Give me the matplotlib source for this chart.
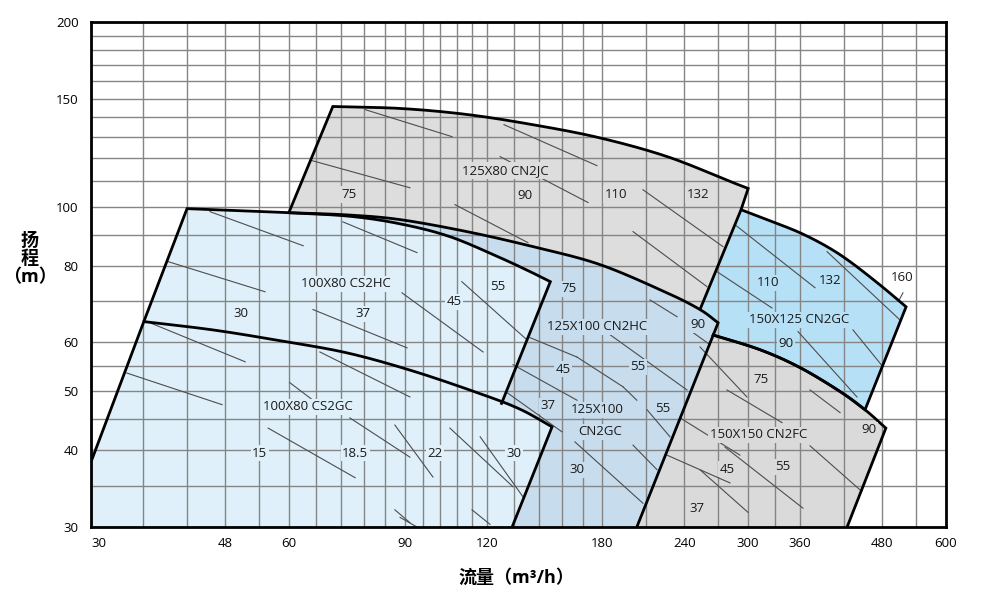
import numpy as np
import matplotlib
matplotlib.use("Agg")
import matplotlib.pyplot as plt
from matplotlib.patches import Polygon

plt.rcParams['font.family'] = ['Open Sans', 'Noto Sans CJK SC', 'DejaVu Sans']

# ---------------- axes ----------------
x_ticks = [30, 48, 60, 90, 120, 180, 240, 300, 360, 480, 600]
y_ticks = [30, 40, 50, 60, 80, 100, 150, 200]
x_grid = [36, 42, 48, 54, 60, 66, 72, 78, 84, 90, 96, 102, 108, 114, 120,
          132, 144, 156, 168, 180, 210, 240, 270, 300, 330, 360, 420, 480, 540]
y_grid = [35, 40, 45, 50, 55, 60, 70, 80, 90, 100, 110, 120, 130, 140, 150,
          160, 170, 180, 190]

# ---------------- region boundaries (flow m3/h, head m) ----------------
# 125X80 CN2JC
cn2jc_left_q, cn2jc_left_h = [60], [97.7]
cn2jc_top_q = [70, 89, 112, 141, 178, 226, 282, 300]
cn2jc_top_h = [145.6, 144.5, 141.3, 136, 129.5, 120.6, 109.8, 107.0]
cn2jc_right_q, cn2jc_right_h = [292.6], [98.8]
cn2jc_hidden_q, cn2jc_hidden_h = [270, 240, 60], [75, 60, 60]

# 150X150 CN2FC
cn2fc_top_q = [264.2, 312.6, 359.8, 414, 451.8, 486]
cn2fc_top_h = [61.8, 58.4, 54.6, 49.9, 46.6, 43.5]
cn2fc_right_q, cn2fc_right_h = [424.3], [30]
cn2fc_hidden_q, cn2fc_hidden_h = [200, 255], [30, 62]

# 150X125 CN2GC
gc150_left_q, gc150_left_h = [253.4], [67.9]
gc150_top_q = [292.6, 323.8, 359.8, 395.5, 428.6, 476, 521.7]
gc150_top_h = [98.8, 94.8, 90.6, 86.0, 81.3, 74.5, 68.6]
gc150_bot_q = [451.8, 414, 359.8, 312.6, 264.2]
gc150_bot_h = [46.6, 49.9, 54.6, 58.4, 61.8]
gc150_hidden_q, gc150_hidden_h = [250], [62]

# 125X100 CN2HC / CN2GC
cn2hc_top_q = [60, 73.6, 88.6, 112, 141.2, 178.5, 225.7, 253.4, 270]
cn2hc_top_h = [97.7, 96.9, 95.2, 91, 86, 80.4, 72.3, 67.9, 64.6]
cn2hc_right_q, cn2hc_right_h = [203.1], [30]
cn2hc_hidden_q, cn2hc_hidden_h = [120, 60], [30, 60]

# 100X80 CS2HC
cs2hc_left_q, cs2hc_left_h = [36.1], [64.9]
cs2hc_top_q = [42, 50.6, 60, 74.3, 88.6, 105.5, 125.8, 139.7, 150]
cs2hc_top_h = [99.2, 98.4, 97.7, 96.4, 93.7, 89.3, 82.5, 78.3, 75.4]
cs2hc_right_q, cs2hc_right_h = [126.2], [47.5]
cs2hc_hidden_q, cs2hc_hidden_h = [120, 40], [45, 45]

# 100X80 CS2GC
cs2gc_left_q, cs2gc_left_h = [30], [38.3]
cs2gc_top_q = [36.1, 46, 58.2, 73.6, 92.7, 117.3, 134.9, 150.9]
cs2gc_top_h = [64.9, 62.9, 60.4, 57.7, 53.9, 49.5, 46.7, 43.7]
cs2gc_right_q, cs2gc_right_h = [131.2], [30]
cs2gc_hidden_q, cs2gc_hidden_h = [30], [30]

GREY = '#dddddd'
GREY2 = '#dadada'
LIGHT = '#dff0fa'
MED = '#c7dcec'
BRIGHT = '#b6e0f6'

# ---------------- thin motor/impeller lines: (q1, h1, q2, h2) ----------------
thin_lines = [
    (78.4, 143.9, 106.3, 130.0), (65.1, 118.8, 91.7, 107.3), (127.5, 136, 176.6, 116.6),
    (125.8, 120.6, 171.2, 101.5), (107.4, 100.7, 138.7, 87.3), (207.5, 106.5, 274.7, 86.0),
    (200.4, 91.0, 259.7, 74.0),
    (45.5, 98.1, 63.1, 86.3), (72.5, 94.4, 94.0, 84.1), (39.3, 81.3, 55.2, 72.6),
    (65.3, 67.9, 90.8, 58.8), (89.2, 72.3, 118.5, 57.9), (110.0, 75.4, 138.2, 60.6),
    (139.7, 61.1, 164.7, 56.8), (164.7, 56.8, 193.5, 50.8), (193.5, 50.8, 203.1, 48.3),
    (131.6, 55.2, 164.7, 48.3), (128.9, 49.7, 156.2, 42.9), (163.5, 41.3, 207.5, 32.8),
    (200.4, 40.8, 218.0, 37.2), (182.9, 62.3, 242.1, 50.2), (210.5, 46.6, 228.1, 42.1),
    (117.3, 42.1, 136.3, 33.6), (212.7, 70.4, 233.8, 66.1), (247.2, 62.3, 262.4, 59.5),
    (55.8, 43.5, 75.7, 36.1), (74.3, 45.2, 91.7, 39.0), (87.0, 44.0, 99.4, 36.2),
    (87.0, 32.0, 91.7, 30.5), (36.9, 64.6, 51.5, 55.8), (34.0, 53.5, 47.5, 47.5),
    (66.9, 57.9, 91.7, 48.9), (60.2, 51.6, 65.3, 48.3), (105.5, 43.5, 131.6, 34.9),
    (114.0, 32.0, 121.4, 30.3), (88.6, 31.1, 94.0, 30.0),
    (276.6, 40.5, 363.5, 32.2), (253.4, 37.2, 299.8, 31.7), (372.6, 40.7, 443.8, 34.5),
    (278.5, 50.2, 337.8, 44.4), (372.6, 50.2, 414, 46.1), (225.7, 39.3, 281.5, 35.4),
    (253.4, 59.0, 298.7, 48.9), (236.3, 45.2, 291.5, 39.3),
    (286.4, 93.4, 379.2, 73.7), (268.9, 78.3, 326.1, 68.3), (395.5, 84.4, 510.6, 65.3),
    (357.3, 62.5, 439.2, 48.9), (433.1, 62.9, 479.5, 55.0), (509.1, 70.4, 516.0, 72.3),
]

# ---------------- labels: (text, q, h, background) ----------------
labels = [
    ('125X80 CN2JC', 128, 114.5, GREY), ('75', 74.1, 104.6, GREY), ('90', 137.3, 104.3, GREY),
    ('110', 188.8, 104.6, GREY), ('132', 251.6, 104.6, GREY),
    ('100X80 CS2HC', 73.3, 74.8, LIGHT), ('30', 50.7, 66.8, LIGHT), ('37', 77.8, 66.8, LIGHT),
    ('45', 107, 69.9, LIGHT), ('55', 124.9, 74.0, LIGHT),
    ('75', 160.1, 73.4, MED), ('125X100 CN2HC', 176.6, 63.6, MED), ('90', 251.6, 64.1, MED),
    ('45', 156.8, 54.3, MED), ('55', 203.9, 54.8, MED), ('37', 148.8, 47.3, MED),
    ('125X100', 176.6, 46.6, MED), ('CN2GC', 178.5, 42.9, MED), ('55', 222.6, 46.9, MED),
    ('30', 164.7, 37.2, MED),
    ('100X80 CS2GC', 64.2, 47.1, LIGHT), ('15', 54.2, 39.6, LIGHT), ('18.5', 75.7, 39.6, LIGHT),
    ('22', 100.1, 39.6, LIGHT), ('30', 132, 39.6, LIGHT),
    ('110', 321.7, 75.1, BRIGHT), ('132', 399.6, 75.7, BRIGHT), ('160', 514.3, 76.5, 'white'),
    ('150X125 CN2GC', 358.4, 65.3, BRIGHT), ('90', 342.6, 59.7, BRIGHT),
    ('75', 313.8, 52.2, GREY2), ('150X150 CN2FC', 311.3, 42.4, GREY2), ('90', 458.2, 43.2, GREY2),
    ('45', 278.5, 37.3, GREY2), ('55', 338.7, 37.6, GREY2), ('37', 250.7, 32.2, GREY2),
]


def smooth(q, h, n=24):
    """Catmull-Rom rendering of a read boundary curve in log-log space."""
    P = np.column_stack([np.log10(q), np.log10(h)])
    P = np.vstack([2 * P[0] - P[1], P, 2 * P[-1] - P[-2]])
    out = []
    t = np.linspace(0, 1, n, endpoint=False)[:, None]
    for i in range(1, len(P) - 2):
        p0, p1, p2, p3 = P[i - 1], P[i], P[i + 1], P[i + 2]
        out.append(0.5 * (2 * p1 + (-p0 + p2) * t + (2 * p0 - 5 * p1 + 4 * p2 - p3) * t ** 2
                          + (-p0 + 3 * p1 - 3 * p2 + p3) * t ** 3))
    out.append(P[-2][None, :])
    a = np.vstack(out)
    return list(10 ** a[:, 0]), list(10 ** a[:, 1])


def build(pieces, hidden_q, hidden_h):
    oq, oh = [], []
    for kind, q, h in pieces:
        if kind == 'C':
            q, h = smooth(q, h)
        oq += list(q)
        oh += list(h)
    return oq, oh, oq + list(hidden_q), oh + list(hidden_h)


regions = [
    (build([('L', cn2jc_left_q, cn2jc_left_h), ('C', cn2jc_top_q, cn2jc_top_h),
            ('L', cn2jc_right_q, cn2jc_right_h)], cn2jc_hidden_q, cn2jc_hidden_h), GREY),
    (build([('C', cn2fc_top_q, cn2fc_top_h), ('L', cn2fc_right_q, cn2fc_right_h)],
           cn2fc_hidden_q, cn2fc_hidden_h), GREY2),
    (build([('L', gc150_left_q, gc150_left_h), ('C', gc150_top_q, gc150_top_h),
            ('C', gc150_bot_q, gc150_bot_h)], gc150_hidden_q, gc150_hidden_h), BRIGHT),
    (build([('C', cn2hc_top_q, cn2hc_top_h), ('L', cn2hc_right_q, cn2hc_right_h)],
           cn2hc_hidden_q, cn2hc_hidden_h), MED),
    (build([('L', cs2hc_left_q, cs2hc_left_h), ('C', cs2hc_top_q, cs2hc_top_h),
            ('L', cs2hc_right_q, cs2hc_right_h)], cs2hc_hidden_q, cs2hc_hidden_h), LIGHT),
    (build([('L', cs2gc_left_q, cs2gc_left_h), ('C', cs2gc_top_q, cs2gc_top_h),
            ('L', cs2gc_right_q, cs2gc_right_h)], cs2gc_hidden_q, cs2gc_hidden_h), LIGHT),
]

fig = plt.figure(figsize=(9.87, 5.89), dpi=100)
ax = fig.add_axes([91 / 987, 62 / 589, 855 / 987, 505 / 589])
ax.set_xscale('log')
ax.set_yscale('log')
ax.set_xlim(30, 600)
ax.set_ylim(30, 200)

for i, ((oq, oh, pq, ph), col) in enumerate(regions):
    ax.add_patch(Polygon(list(zip(pq, ph)), closed=True, facecolor=col,
                         edgecolor='none', zorder=1 + i * 0.1))
    ax.plot(oq, oh, color='black', lw=2.0, zorder=4, solid_joinstyle='miter',
            solid_capstyle='butt')

for q1, h1, q2, h2 in thin_lines:
    ax.plot([q1, q2], [h1, h2], color='#4d4d4d', lw=0.8, zorder=3)

for txt, q, h, bg in labels:
    ax.text(q, h, txt, ha='center', va='center', fontsize=9.5, color='#1a1a1a', zorder=5,
            bbox=dict(boxstyle='square,pad=0.12', fc=bg, ec='none'))

ax.set_xticks(x_ticks)
ax.set_xticklabels([str(v) for v in x_ticks])
ax.set_yticks(y_ticks)
ax.set_yticklabels([str(v) for v in y_ticks])
ax.set_xticks(x_grid, minor=True)
ax.set_yticks(y_grid, minor=True)
ax.xaxis.set_minor_formatter(plt.NullFormatter())
ax.yaxis.set_minor_formatter(plt.NullFormatter())
ax.tick_params(which='both', length=0)
ax.tick_params(axis='x', pad=7, labelsize=9.5)
ax.tick_params(axis='y', pad=9, labelsize=9.5)
ax.get_xticklabels()[0].set_horizontalalignment('left')
ax.set_axisbelow(False)
ax.grid(True, which='both', color='#858585', lw=1.0, zorder=2)
for s in ax.spines.values():
    s.set_linewidth(2.0)
    s.set_zorder(6)

fig.text(30 / 987, 1 - 259 / 589, '扬\n程\n（m）', ha='center', va='center',
         fontsize=13, fontweight='bold', linespacing=1.0)
fig.text(516 / 987, 1 - 578 / 589, '流量（m³/h）', ha='center', va='center',
         fontsize=13, fontweight='bold')

fig.savefig('out.png', dpi=100)
